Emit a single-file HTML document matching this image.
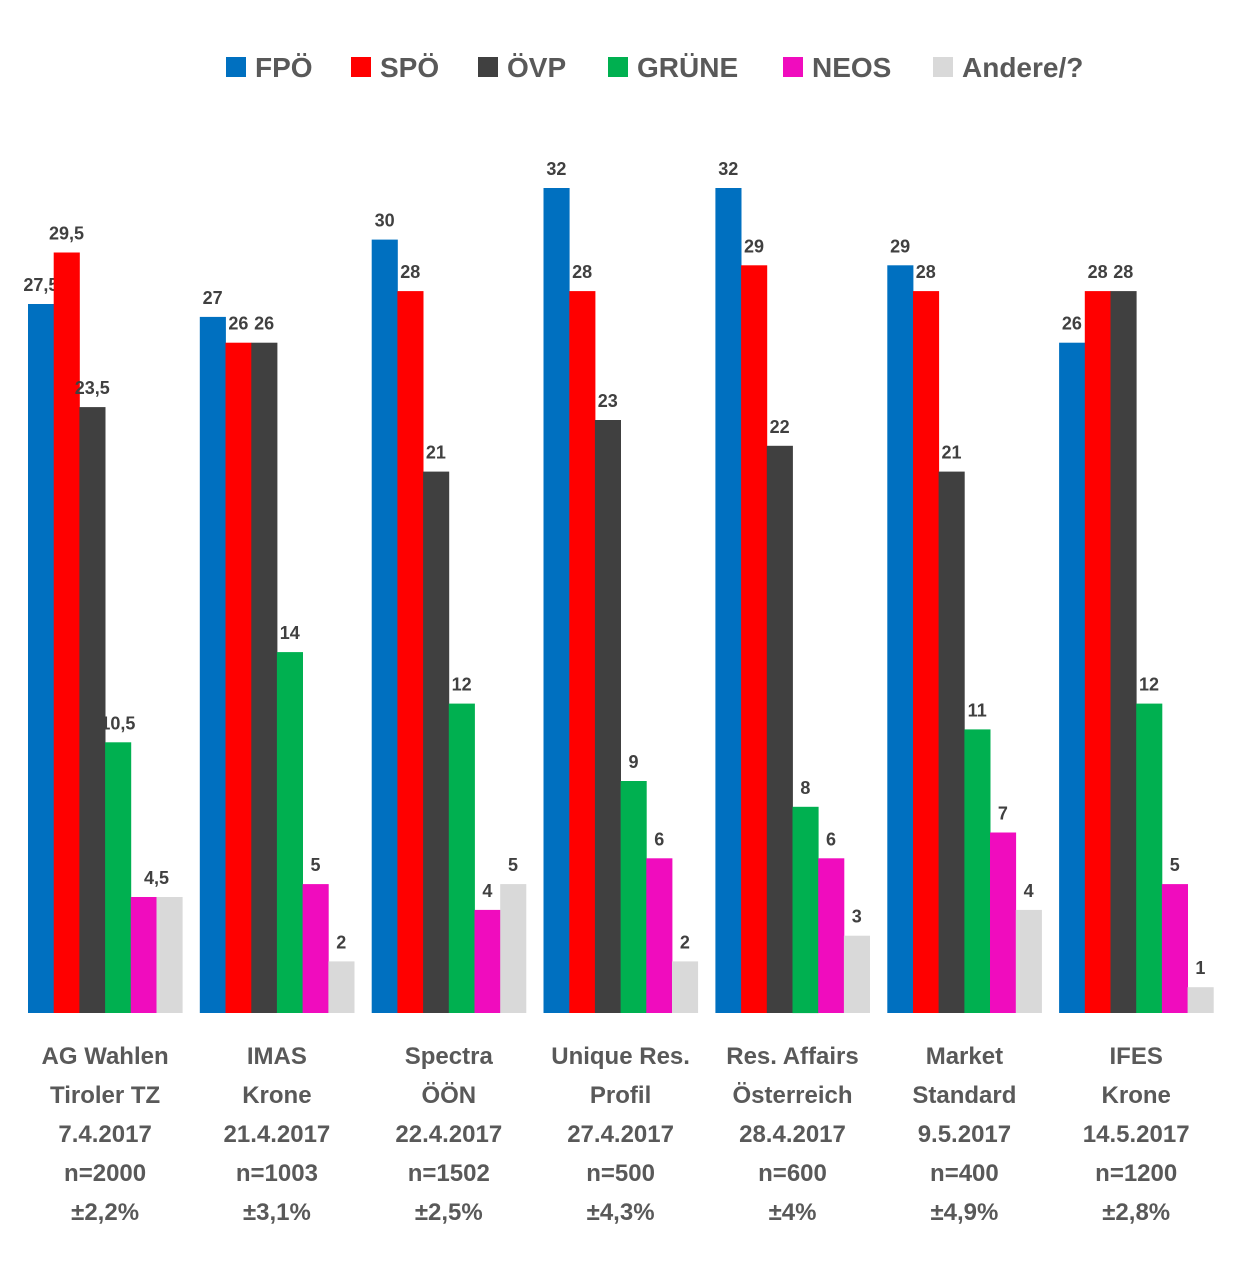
<!DOCTYPE html>
<html><head><meta charset="utf-8"><style>
html,body{margin:0;padding:0;background:#fff;}
svg{display:block;}
</style></head><body>
<svg id="c" xmlns="http://www.w3.org/2000/svg" width="1254" height="1268" viewBox="0 0 1254 1268" font-family="'Liberation Sans', sans-serif"></svg>
<script>
const svg=document.getElementById('c');
const colors=['#0070C0','#FF0000','#404040','#00B050','#F00CBE','#D9D9D9'];
const names=['FPÖ','SPÖ','ÖVP','GRÜNE','NEOS','Andere/?'];
const data=[[27.5,29.5,23.5,10.5,4.5,4.5],[27,26,26,14,5,2],[30,28,21,12,4,5],[32,28,23,9,6,2],[32,29,22,8,6,3],[29,28,21,11,7,4],[26,28,28,12,5,1]];
const cats=[["AG Wahlen","Tiroler TZ","7.4.2017","n=2000","±2,2%"],["IMAS","Krone","21.4.2017","n=1003","±3,1%"],["Spectra","ÖÖN","22.4.2017","n=1502","±2,5%"],["Unique Res.","Profil","27.4.2017","n=500","±4,3%"],["Res. Affairs","Österreich","28.4.2017","n=600","±4%"],["Market","Standard","9.5.2017","n=400","±4,9%"],["IFES","Krone","14.5.2017","n=1200","±2,8%"]];
let h='';
const base=1013,sc=825/32,bw=25.7;
const legX=[226,351,478,608,783,933];
for(let i=0;i<6;i++){
 h+=`<rect x="${legX[i]}" y="57" width="20" height="20" fill="${colors[i]}"/>`;
 h+=`<text x="${legX[i]+29}" y="77" font-size="28" font-weight="bold" fill="#595959">${names[i]}</text>`;
}
data.forEach((d,g)=>{
 const gx=28+g*171.85;
 d.forEach((v,i)=>{
  const x=gx+i*bw, top=base-v*sc;
  h+=`<rect x="${x.toFixed(1)}" y="${top.toFixed(1)}" width="${(bw+0.4).toFixed(1)}" height="${(v*sc).toFixed(1)}" fill="${colors[i]}"/>`;
  if(g===0&&i===5) return;
  let cx=x+bw/2; if(g===0&&i===4) cx=x+bw;
  h+=`<text x="${cx.toFixed(1)}" y="${(top-13).toFixed(1)}" text-anchor="middle" font-size="18" font-weight="bold" fill="#404040">${String(v).replace('.',',')}</text>`;
 });
 const cx=gx+3*bw;
 cats[g].forEach((t,j)=>{
  h+=`<text x="${cx.toFixed(1)}" y="${1064+j*39}" text-anchor="middle" font-size="24" font-weight="bold" fill="#595959">${t}</text>`;
 });
});
svg.innerHTML=h;
</script>
</body></html>
